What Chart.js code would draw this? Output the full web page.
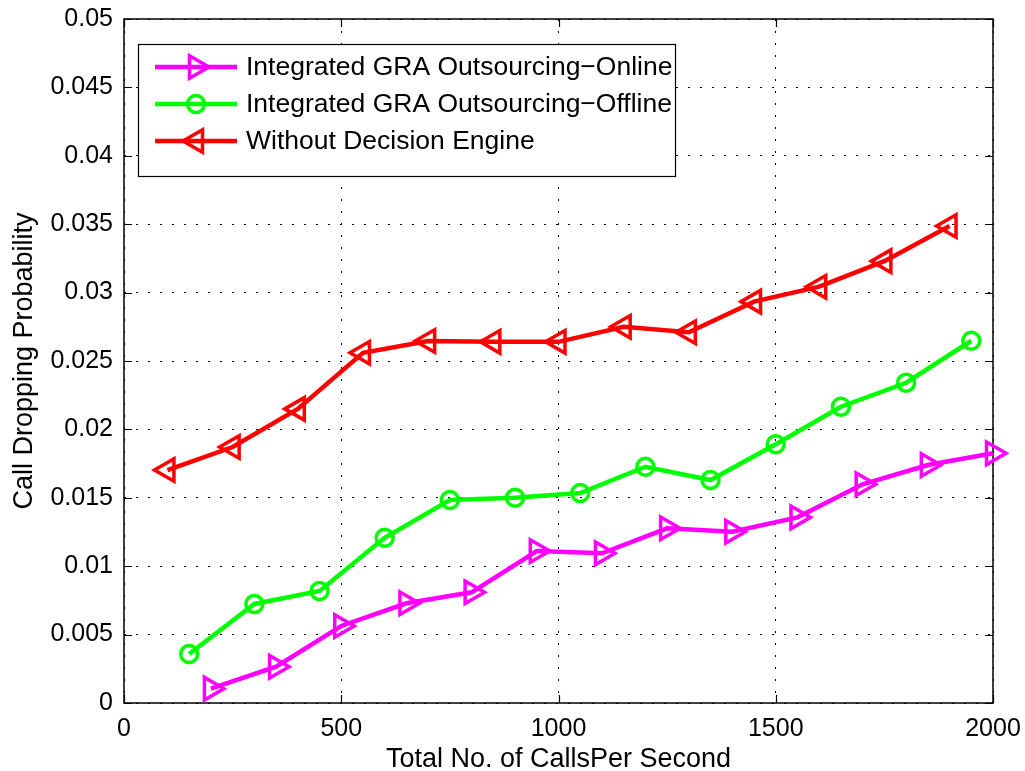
<!DOCTYPE html>
<html>
<head>
<meta charset="utf-8">
<script src="https://cdn.jsdelivr.net/npm/chart.js@4.4.0/dist/chart.umd.min.js"></script>
<style>
  html, body { margin: 0; padding: 0; background: #fff; }
  #mainChart { display: block; }
</style>
</head>
<body>
<canvas id="mainChart" width="1025" height="771"></canvas>
<script>
// --- data ---
const onlineCalls  = [200, 350, 500, 650, 800, 950, 1100, 1250, 1400, 1550, 1700, 1850, 2000];
const onlineDrop   = [0.00105, 0.00265, 0.00563, 0.00729, 0.00809, 0.01111, 0.01094, 0.01277, 0.01252, 0.01357, 0.01599, 0.0174, 0.01825];
const offlineCalls = [150, 300, 450, 600, 750, 900, 1050, 1200, 1350, 1500, 1650, 1800, 1950];
const offlineDrop  = [0.00358, 0.00724, 0.00819, 0.01208, 0.01484, 0.01501, 0.01535, 0.01727, 0.0163, 0.01891, 0.02166, 0.02341, 0.02648];
const noEngineCalls = [100, 250, 400, 550, 700, 850, 1000, 1150, 1300, 1450, 1600, 1750, 1900];
const noEngineDrop  = [0.01703, 0.01871, 0.0215, 0.0256, 0.02646, 0.0264, 0.0264, 0.0275, 0.0271, 0.02934, 0.03043, 0.0323, 0.03487];

const seriesNames = [
  'Integrated GRA Outsourcing\u2212Online',
  'Integrated GRA Outsourcing\u2212Offline',
  'Without Decision Engine'
];
const xTicks = [0, 500, 1000, 1500, 2000];
const yTicks = [0, 0.005, 0.01, 0.015, 0.02, 0.025, 0.03, 0.035, 0.04, 0.045, 0.05];

const FONT = 'Liberation Sans, Arial, Helvetica, sans-serif';

function pairs(xs, ys) {
  return xs.map((x, i) => ({ x: x, y: ys[i] }));
}

function series(label, xs, ys, color, style, rot, r) {
  return {
    label: label,
    data: pairs(xs, ys),
    borderColor: color,
    borderWidth: 4.5,
    pointStyle: style,
    pointRotation: rot,
    pointRadius: r,
    pointHoverRadius: r,
    pointBorderWidth: 3.5,
    pointBorderColor: color,
    pointBackgroundColor: 'rgba(0,0,0,0)',
    tension: 0,
    fill: false,
    clip: false
  };
}

// axes box + inward tick marks
const axesFrame = {
  id: 'axesFrame',
  beforeDatasetsDraw(chart) {
    const { ctx, chartArea: a, scales } = chart;
    ctx.save();
    ctx.strokeStyle = '#000';
    ctx.lineWidth = 1.5;
    ctx.strokeRect(a.left, a.top, a.right - a.left, a.bottom - a.top);
    ctx.lineWidth = 1.2;
    ctx.beginPath();
    xTicks.forEach(v => {
      const px = Math.round(scales.x.getPixelForValue(v)) + 0.5;
      ctx.moveTo(px, a.bottom); ctx.lineTo(px, a.bottom - 8);
      ctx.moveTo(px, a.top); ctx.lineTo(px, a.top + 8);
    });
    yTicks.forEach(v => {
      const py = Math.round(scales.y.getPixelForValue(v)) + 0.5;
      ctx.moveTo(a.left, py); ctx.lineTo(a.left + 8, py);
      ctx.moveTo(a.right, py); ctx.lineTo(a.right - 8, py);
    });
    ctx.stroke();
    ctx.restore();
  }
};

// boxed legend in the upper left corner
const legendBox = {
  id: 'legendBox',
  afterDraw(chart) {
    const { ctx } = chart;
    const x0 = 138.5, y0 = 44.5, w = 537, h = 132;
    ctx.save();
    ctx.fillStyle = '#fff';
    ctx.fillRect(x0, y0, w, h);
    ctx.strokeStyle = '#000';
    ctx.lineWidth = 1.2;
    ctx.strokeRect(x0, y0, w, h);
    chart.data.datasets.forEach((ds, i) => {
      const y = 67 + i * 37;
      ctx.strokeStyle = ds.borderColor;
      ctx.lineWidth = ds.borderWidth;
      ctx.beginPath();
      ctx.moveTo(155, y); ctx.lineTo(237, y);
      ctx.stroke();
      ctx.lineWidth = ds.pointBorderWidth;
      ctx.fillStyle = 'rgba(0,0,0,0)';
      Chart.helpers.drawPoint(ctx, {
        pointStyle: ds.pointStyle,
        rotation: ds.pointRotation,
        radius: ds.pointRadius,
        borderWidth: ds.pointBorderWidth
      }, 196, y);
      ctx.fillStyle = '#000';
      ctx.font = '26.5px ' + FONT;
      ctx.textBaseline = 'middle';
      ctx.textAlign = 'left';
      ctx.fillText(ds.label, 246, y + 1);
    });
    ctx.restore();
  }
};

const ctx = document.getElementById('mainChart').getContext('2d');
const mainChart = new Chart(ctx, {
  type: 'line',
  data: {
    datasets: [
      series(seriesNames[0], onlineCalls, onlineDrop, '#ff00ff', 'triangle', 90, 13),
      series(seriesNames[1], offlineCalls, offlineDrop, '#00ff00', 'circle', 0, 8.5),
      series(seriesNames[2], noEngineCalls, noEngineDrop, '#ff0000', 'triangle', -90, 13)
    ]
  },
  options: {
    responsive: false,
    animation: false,
    devicePixelRatio: 1,
    layout: { autoPadding: false, padding: { top: 19, right: 32, left: 0, bottom: 0 } },
    plugins: {
      legend: { display: false },
      tooltip: { enabled: false }
    },
    scales: {
      x: {
        type: 'linear',
        min: 0,
        max: 2000,
        afterBuildTicks: s => { s.ticks = xTicks.map(v => ({ value: v })); },
        afterFit: s => { s.height = 68; s.paddingLeft = 0; s.paddingRight = 0; },
        border: { display: false, dash: [2, 10] },
        grid: { color: '#000', lineWidth: 1, drawTicks: false },
        ticks: {
          color: '#000',
          font: { family: FONT, size: 25 },
          padding: 11,
          maxRotation: 0,
          callback: v => String(v)
        },
        title: {
          display: true,
          text: 'Total No. of CallsPer Second',
          color: '#000',
          font: { family: FONT, size: 27 },
          padding: { top: 0, bottom: -5 }
        }
      },
      y: {
        type: 'linear',
        min: 0,
        max: 0.05,
        afterBuildTicks: s => { s.ticks = yTicks.map(v => ({ value: v })); },
        afterFit: s => { s.width = 124; s.paddingTop = 0; s.paddingBottom = 0; },
        border: { display: false, dash: [2, 10] },
        grid: { color: '#000', lineWidth: 1, drawTicks: false },
        ticks: {
          color: '#000',
          font: { family: FONT, size: 25 },
          padding: 11,
          callback: v => String(parseFloat(v.toFixed(3)))
        },
        title: {
          display: true,
          text: 'Call Dropping Probability',
          color: '#000',
          font: { family: FONT, size: 27 },
          padding: { top: 8, bottom: 0 }
        }
      }
    }
  },
  plugins: [axesFrame, legendBox]
});
</script>
</body>
</html>
